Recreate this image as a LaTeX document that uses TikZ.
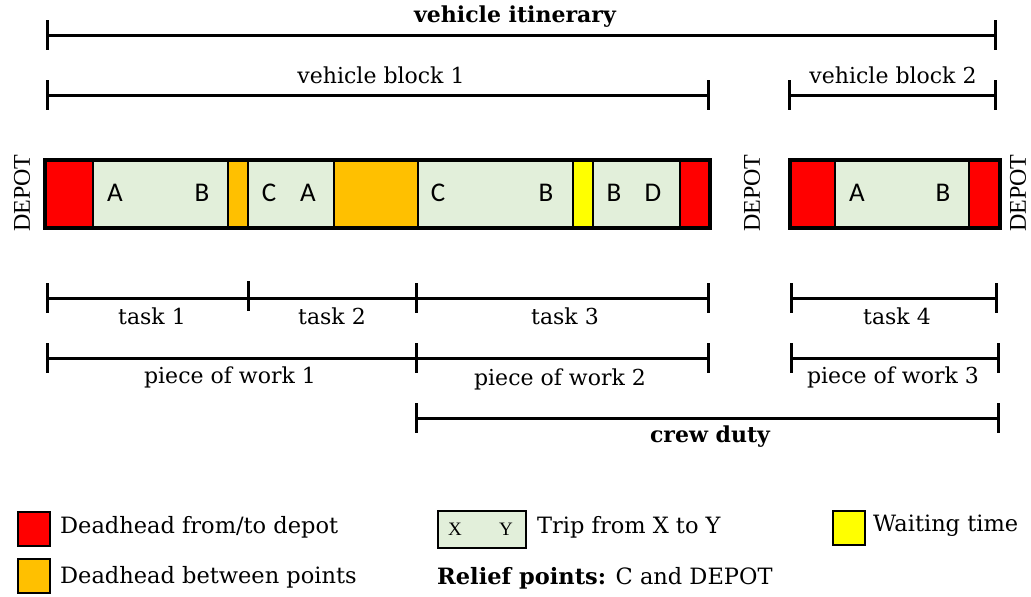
\documentclass[tikz,border=0pt]{standalone}
\usepackage{fontspec}
\setmainfont{DejaVu Serif}
\newfontfamily\sansf{Carlito}
\newfontfamily\timesf{Liberation Serif}
\definecolor{cred}{HTML}{FF0000}
\definecolor{corange}{HTML}{FFC000}
\definecolor{cgreen}{HTML}{E2EFDA}
\definecolor{cyellow}{HTML}{FFFF00}
\tikzset{
  dim/.style={line width=3pt},
  tick/.style={line width=3pt},
  lbl/.style={font=\fontsize{22}{24}\selectfont, inner sep=0pt},
  blbl/.style={font=\fontsize{22}{24}\selectfont\bfseries, inner sep=0pt},
  cell/.style={draw=black, line width=2pt, minimum height=66pt, inner sep=0pt, anchor=north west},
  let/.style={font=\sansf\fontsize{27}{30}\selectfont, inner sep=0pt},
  depot/.style={font=\timesf\fontsize{24}{26}\selectfont, rotate=90, inner sep=0pt},
  sq/.style={draw=black, line width=1.5pt, minimum width=32pt, minimum height=34pt, inner sep=0pt, anchor=north west},
  leg/.style={font=\fontsize{22.5}{24}\selectfont, inner sep=0pt, anchor=west},
}
\newcommand{\tk}[1]{\draw[tick] (#1) ++(0,-15) -- ++(0,30);}
\begin{document}
\begin{tikzpicture}[x=1pt,y=-1pt]
\useasboundingbox (0,0) rectangle (1031,597);
% ---- bar 1
\node[cell, fill=cred, minimum width=47pt] (c1) at (45,160) {};
\node[cell, fill=cgreen, minimum width=135pt] (c2) at (92,160) {};
\node[cell, fill=corange, minimum width=20pt] (c3) at (227,160) {};
\node[cell, fill=cgreen, minimum width=86pt] (c4) at (247,160) {};
\node[cell, fill=corange, minimum width=84pt] (c5) at (333,160) {};
\node[cell, fill=cgreen, minimum width=155pt] (c6) at (417,160) {};
\node[cell, fill=cyellow, minimum width=20pt] (c7) at (572,160) {};
\node[cell, fill=cgreen, minimum width=87pt] (c8) at (592,160) {};
\node[cell, fill=cred, minimum width=29pt] (c9) at (679,160) {};
\draw[line width=4pt] (c1.north west) rectangle (c9.south east);
% ---- bar 2
\node[cell, fill=cred, minimum width=44pt] (d1) at (790,160) {};
\node[cell, fill=cgreen, minimum width=134pt] (d2) at (834,160) {};
\node[cell, fill=cred, minimum width=30pt] (d3) at (968,160) {};
\draw[line width=4pt] (d1.north west) rectangle (d3.south east);
% ---- letters
\node[let] (l1) at (115,193) {A};
\node[let] (l2) at (202,193) {B};
\node[let] (l3) at (269,193) {C};
\node[let] (l4) at (308,193) {A};
\node[let] (l5) at (438,193) {C};
\node[let] (l6) at (546,193) {B};
\node[let] (l7) at (614,193) {B};
\node[let] (l8) at (653,193) {D};
\node[let] (l9) at (857,193) {A};
\node[let] (l10) at (943,193) {B};
% ---- depots
\node[depot] (dep1) at (22,193) {DEPOT};
\node[depot] (dep2) at (752,193) {DEPOT};
\node[depot] (dep3) at (1018,193) {DEPOT};
% ---- dimension lines
\coordinate (vi1) at (47,35); \coordinate (vi2) at (995,35);
\draw[dim] (vi1) -- (vi2); \tk{vi1} \tk{vi2}
\node[blbl] (vil) at (515,17) {vehicle itinerary};
\coordinate (vb1a) at (47,95); \coordinate (vb1b) at (708,95);
\draw[dim] (vb1a) -- (vb1b); \tk{vb1a} \tk{vb1b}
\node[lbl] (vb1l) at (381,75) {vehicle block 1};
\coordinate (vb2a) at (789,95); \coordinate (vb2b) at (995,95);
\draw[dim] (vb2a) -- (vb2b); \tk{vb2a} \tk{vb2b}
\node[lbl] (vb2l) at (893,75) {vehicle block 2};
% tasks
\coordinate (t0) at (47,298); \coordinate (t1) at (248,296);
\coordinate (t2) at (416,298); \coordinate (t3) at (708,298);
\coordinate (t4a) at (791,298); \coordinate (t4b) at (996,298);
\draw[dim] (t0) -- (t3); \tk{t0} \tk{t1} \tk{t2} \tk{t3}
\draw[dim] (t4a) -- (t4b); \tk{t4a} \tk{t4b}
\node[lbl] (tl1) at (152,316) {task 1};
\node[lbl] (tl2) at (332,316) {task 2};
\node[lbl] (tl3) at (565,316) {task 3};
\node[lbl] (tl4) at (897,316) {task 4};
% pieces of work
\coordinate (p0) at (47,358); \coordinate (p1) at (416,358);
\coordinate (p2) at (708,358); \coordinate (p3a) at (791,358);
\coordinate (p3b) at (998,358);
\draw[dim] (p0) -- (p2); \tk{p0} \tk{p1} \tk{p2}
\draw[dim] (p3a) -- (p3b); \tk{p3a} \tk{p3b}
\node[lbl] (pl1) at (230,377) {piece of work 1};
\node[lbl] (pl2) at (560,379) {piece of work 2};
\node[lbl] (pl3) at (893,377) {piece of work 3};
% crew duty
\coordinate (cd1) at (416,418); \coordinate (cd2) at (998,418);
\draw[dim] (cd1) -- (cd2); \tk{cd1} \tk{cd2}
\node[blbl] (cdl) at (710,437) {crew duty};
% ---- legend
\node[sq, fill=cred] (lg1) at (17,511) {};
\node[leg] (lg1t) at (60,527) {Deadhead from/to depot};
\node[sq, fill=corange] (lg2) at (17,558) {};
\node[leg] (lg2t) at (60,577) {Deadhead between points};
\node[draw=black, line width=1.5pt, fill=cgreen, minimum width=88pt, minimum height=37pt, inner sep=0pt, anchor=north west] (lg3) at (437,510) {};
\node[font=\timesf\fontsize{19}{20}\selectfont, inner sep=0pt] (lgx) at (455,529) {X};
\node[font=\timesf\fontsize{19}{20}\selectfont, inner sep=0pt] (lgy) at (506,529) {Y};
\node[leg] (lg3t) at (537,527) {Trip from X to Y};
\node[sq, fill=cyellow] (lg4) at (832,510) {};
\node[leg] (lg4t) at (873,526) {Waiting time};
\node[leg] (lg5t) at (437,578) {\textbf{Relief points:} C and DEPOT};
\end{tikzpicture}
\end{document}
